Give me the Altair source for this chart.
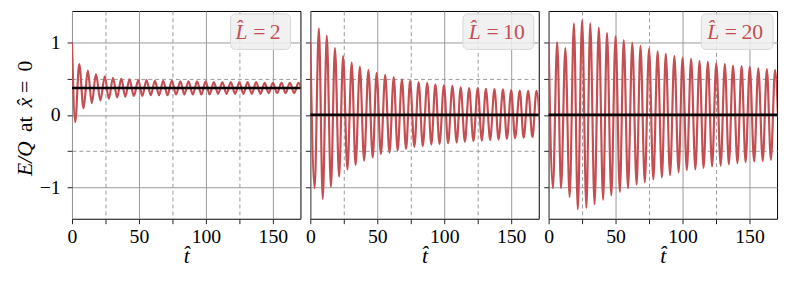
import altair as alt
import pandas as pd

RED = "#c44e52"
SERIF = "Liberation Serif"

t_max = 170.6
y_lim = 1.43
x_ticks = [0, 25, 50, 75, 100, 125, 150]
y_ticks = [-1, -0.5, 0, 0.5, 1]

legend_numbers = ["2", "10", "20"]
equilibrium = [0.37, 0.0, 0.0]
start_value = [1.0, 1.0, 1.0]

# ---- L = 2 ----
l2_peak_t = [5.4, 11.8, 17.9, 24.5, 30.6, 36.8, 42.9, 49.5, 55.6, 61.9, 68.1, 74.5, 80.9, 87.0,
             93.4, 99.8, 105.9, 112.3, 118.6, 125.0, 131.1, 137.5, 143.9, 150.0, 156.4, 162.7, 169.1]
l2_peak_v = [0.70, 0.61, 0.56, 0.53, 0.51, 0.50, 0.49, 0.48, 0.48, 0.47, 0.47, 0.47, 0.46, 0.46,
             0.46, 0.46, 0.45, 0.45, 0.45, 0.45, 0.45, 0.45, 0.44, 0.44, 0.44, 0.44, 0.44]
l2_trough_t = [2.4, 8.6, 14.8, 21.2, 27.5, 33.7, 39.8, 46.2, 52.5, 58.8, 65.0, 71.3, 77.7, 83.9,
               90.2, 96.6, 102.8, 109.1, 115.4, 121.8, 128.0, 134.3, 140.7, 146.9, 153.2, 159.5, 165.9, 172.2]
l2_trough_v = [-0.10, 0.09, 0.16, 0.20, 0.22, 0.24, 0.25, 0.26, 0.26, 0.27, 0.27, 0.27, 0.28, 0.28,
               0.28, 0.28, 0.28, 0.29, 0.29, 0.29, 0.29, 0.29, 0.29, 0.30, 0.30, 0.30, 0.30, 0.30]

# ---- L = 10 ----
l10_peak_t = [6.4, 12.3, 18.4, 24.5, 30.9, 37.0, 43.4, 49.5, 55.9, 62.3, 68.4, 74.5, 80.9, 87.3,
              93.4, 99.8, 106.1, 112.3, 118.6, 125.0, 131.1, 137.5, 143.9, 150.0, 156.4, 162.7, 168.9]
l10_peak_v = [1.19, 1.09, 0.92, 0.81, 0.72, 0.66, 0.62, 0.58, 0.55, 0.52, 0.49, 0.47, 0.45, 0.44,
              0.42, 0.41, 0.40, 0.38, 0.37, 0.37, 0.36, 0.355, 0.35, 0.34, 0.335, 0.33, 0.33]
l10_trough_t = [3.2, 9.3, 15.4, 21.5, 27.7, 33.8, 40.2, 46.6, 52.7, 59.1, 65.2, 71.5, 77.7, 84.0,
                90.4, 96.5, 102.9, 109.3, 115.4, 121.8, 128.1, 134.3, 140.6, 146.8, 152.9, 159.3, 165.9, 172.0]
l10_trough_v = [-1.01, -1.16, -0.99, -0.85, -0.75, -0.69, -0.63, -0.59, -0.54, -0.52, -0.49, -0.47, -0.44, -0.43,
                -0.41, -0.40, -0.39, -0.38, -0.37, -0.36, -0.355, -0.345, -0.34, -0.33, -0.32, -0.315, -0.305, -0.30]

# ---- L = 20 ----
l20_peak_t = [6.4, 12.5, 18.9, 25.0, 31.1, 37.5, 43.6, 50.0, 56.1, 62.5, 68.6, 75.0, 81.4, 87.5,
              93.9, 100.0, 106.4, 112.7, 118.9, 125.2, 131.6, 137.7, 144.1, 150.2, 156.6, 163.0, 169.1]
l20_peak_v = [1.00, 0.92, 1.26, 1.30, 1.26, 1.20, 1.13, 1.08, 1.03, 0.99, 0.95, 0.91, 0.875, 0.84,
              0.81, 0.79, 0.77, 0.74, 0.73, 0.71, 0.70, 0.68, 0.67, 0.66, 0.64, 0.63, 0.62]
l20_trough_t = [3.2, 9.3, 15.7, 21.8, 28.2, 34.3, 40.7, 46.8, 53.2, 59.3, 65.7, 71.8, 78.2, 84.6,
                90.7, 97.1, 103.2, 109.6, 115.7, 122.1, 128.5, 134.6, 141.0, 147.1, 153.5, 159.9, 166.0, 172.3]
l20_trough_v = [-1.01, -1.01, -1.13, -1.30, -1.28, -1.23, -1.17, -1.11, -1.06, -1.01, -0.96, -0.93, -0.89, -0.86,
                -0.83, -0.79, -0.76, -0.75, -0.73, -0.71, -0.70, -0.68, -0.665, -0.65, -0.64, -0.635, -0.62, -0.61]

series = [
    (l2_peak_t, l2_peak_v, l2_trough_t, l2_trough_v),
    (l10_peak_t, l10_peak_v, l10_trough_t, l10_trough_v),
    (l20_peak_t, l20_peak_v, l20_trough_t, l20_trough_v),
]

# legend box placement inside each panel (pixels): box x0, x1, "L" left, "=" left
legend_box = [(161, 222, 166, 184), (155, 227, 161, 179), (155, 228, 161, 179)]

W, H = 232, 211
LABEL_FS = 20
TITLE_FS = 22


def make_panel(i):
    pt, pv, tt, tv = series[i]
    df = pd.DataFrame({
        "t": [0.0] + pt + tt,
        "v": [start_value[i]] + pv + tv,
    }).sort_values("t")

    show_y = i == 0
    x_enc = alt.X(
        "t:Q",
        scale=alt.Scale(domain=[0, t_max], nice=False, zero=False),
        axis=alt.Axis(
            values=x_ticks,
            labelExpr="datum.value % 50 === 0 ? '' + datum.value : ''",
            labelFont=SERIF,
            labelFontSize=LABEL_FS,
            labelFlush=False,
            title="t\u0302",
            titleFont=SERIF,
            titleFontSize=TITLE_FS,
            titleFontStyle="italic",
            titlePadding=-1,
            labelPadding=3,
            gridDash={"condition": {"test": "datum.value % 50 === 0", "value": []}, "value": [4, 3]},
        ),
    )
    y_enc = alt.Y(
        "v:Q",
        scale=alt.Scale(domain=[-y_lim, y_lim], nice=False, zero=False),
        axis=alt.Axis(
            values=y_ticks,
            labels=show_y,
            labelExpr="datum.value === 1 ? '1' : datum.value === 0 ? '0' : datum.value === -1 ? '\u22121' : ''",
            labelFont=SERIF,
            labelFontSize=LABEL_FS,
            labelFlush=False,
            labelPadding=7,
            title=None,
            gridDash={"condition": {"test": "datum.value % 1 === 0", "value": []}, "value": [4, 3]},
        ),
    )

    line = alt.Chart(df).mark_line(
        color=RED, strokeWidth=2.2, interpolate="monotone", clip=True
    ).encode(x=x_enc, y=y_enc)

    rule = alt.Chart(pd.DataFrame({"v": [equilibrium[i]]})).mark_rule(
        color="black", strokeWidth=2.6
    ).encode(y="v:Q")

    x0, x1, lx, ex = legend_box[i]
    lab = pd.DataFrame({"sym": ["L\u0302"], "rest": ["=\u2009" + legend_numbers[i]]})
    box = alt.Chart(lab).mark_rect(
        cornerRadius=5, fill="#efefef", fillOpacity=0.85, stroke="#d6d6d6", strokeWidth=1
    ).encode(x=alt.value(x0), x2=alt.value(x1), y=alt.value(3), y2=alt.value(39))
    sym = alt.Chart(lab).mark_text(
        font=SERIF, fontSize=TITLE_FS, fontStyle="italic", color=RED, align="left", baseline="alphabetic"
    ).encode(text="sym:N", x=alt.value(lx), y=alt.value(28))
    rest = alt.Chart(lab).mark_text(
        font=SERIF, fontSize=TITLE_FS, color=RED, align="left", baseline="alphabetic"
    ).encode(text="rest:N", x=alt.value(ex), y=alt.value(28))

    layers = [line, rule, box, sym, rest]

    if show_y:
        pieces_s = ["E/Q", "at", "x\u0302", "=", "0"]
        pieces_style = ["italic", "normal", "italic", "normal", "normal"]
        pieces_pos = [150, 115, 93, 77, 56]
        for s, st, pos in zip(pieces_s, pieces_style, pieces_pos):
            one = pd.DataFrame({"s": [s]})
            layers.append(
                alt.Chart(one).mark_text(
                    font=SERIF, fontSize=TITLE_FS, fontStyle=st, color="black",
                    angle=270, align="center", baseline="alphabetic",
                ).encode(text="s:N", x=alt.value(-41), y=alt.value(pos))
            )

    return alt.layer(*layers).properties(width=W, height=H)


chart = alt.hconcat(*[make_panel(i) for i in range(3)], spacing=2).properties(
    padding={"left": 5, "top": 0, "right": 2, "bottom": 0}
).configure_view(
    stroke="black", strokeWidth=1
).configure_axis(
    domain=False,
    grid=True,
    gridColor="#999999",
    gridWidth=1,
    tickColor="#222222",
    tickSize=5,
    labelFont=SERIF,
    labelFontSize=LABEL_FS,
    labelColor="black",
    titleFont=SERIF,
    titleFontSize=TITLE_FS,
    titleFontStyle="italic",
    titleFontWeight="normal",
    titleColor="black",
)

chart.save("out.html", embed_options={"renderer": "svg", "actions": False})
